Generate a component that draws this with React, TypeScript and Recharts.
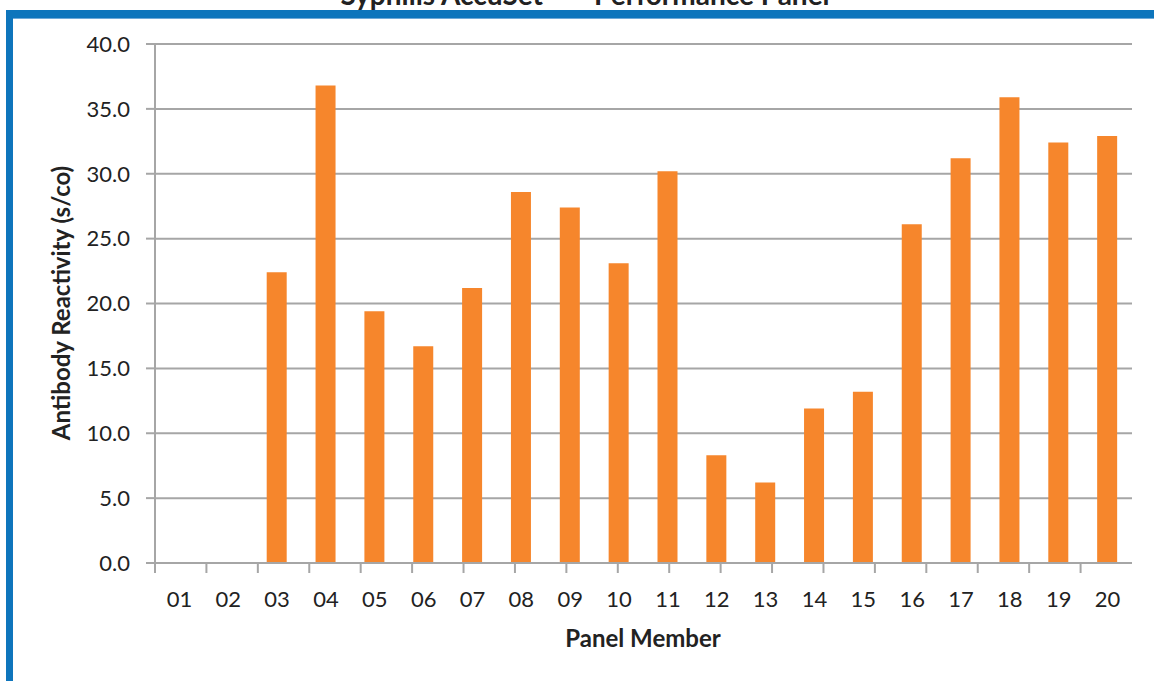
import { BarChart, Bar, XAxis, YAxis, CartesianGrid } from 'recharts'

const members = ['01', '02', '03', '04', '05', '06', '07', '08', '09', '10',
  '11', '12', '13', '14', '15', '16', '17', '18', '19', '20']
const reactivity = [0.05, 0.05, 22.4, 36.8, 19.4, 16.7, 21.2, 28.6, 27.4, 23.1,
  30.2, 8.3, 6.2, 11.9, 13.2, 26.1, 31.2, 35.9, 32.4, 32.9]
const yTicks = [0, 5, 10, 15, 20, 25, 30, 35, 40]
const boundaryTicks = Array.from({ length: members.length + 1 }, (_, i) => i)

const data = members.map((m, i) => ({ member: m, value: reactivity[i] }))

const FONT = 'Lato, "Open Sans", sans-serif'
const GRID = '#a6a6a6'
const ORANGE = '#f6862c'

export default function App() {
  return (
    <div style={{ position: 'absolute', left: 0, top: 0, width: 1154, height: 681, background: '#fff', overflow: 'hidden', fontFamily: FONT }}>
      {/* title, cut off by the frame */}
      <div style={{
        position: 'absolute', left: 0, width: 1170, top: -20, textAlign: 'center',
        fontSize: 28, fontWeight: 700, color: '#222', lineHeight: '28px',
      }}>
        Syphilis AccuSet™ – Performance Panel
      </div>
      {/* blue frame */}
      <div style={{ position: 'absolute', left: 6, top: 10, right: 0, height: 8, background: '#0e75bc', borderBottom: '1px solid #6fa9d8' }} />
      <div style={{ position: 'absolute', left: 6, top: 10, bottom: 0, width: 7, background: '#0e75bc' }} />

      <div style={{ position: 'absolute', left: 0, top: 0 }}>
        <BarChart
          width={1154} height={681} data={data}
          margin={{ top: 44, right: 22, bottom: 116, left: 0 }}
          barSize={20}
        >
          <CartesianGrid vertical={false} stroke={GRID} strokeWidth={2} />
          <XAxis
            dataKey="member" xAxisId="cat"
            tick={{ fill: '#222', fontSize: 22, fontFamily: FONT }}
            tickLine={false} axisLine={{ stroke: GRID, strokeWidth: 2 }}
            tickMargin={22} interval={0} height={1}
          />
          {/* category boundary ticks */}
          <XAxis
            xAxisId="edge" type="number" domain={[0, members.length]}
            ticks={boundaryTicks} tick={() => <g />} axisLine={false}
            tickLine={{ stroke: GRID, strokeWidth: 2 }} tickSize={9} height={1}
          />
          <YAxis
            domain={[0, 40]} ticks={yTicks} width={155}
            tickFormatter={(v: number) => v.toFixed(1)}
            tick={{ fill: '#222', fontSize: 22, fontFamily: FONT }}
            axisLine={{ stroke: GRID, strokeWidth: 2 }}
            tickLine={{ stroke: GRID, strokeWidth: 2 }} tickSize={9} tickMargin={16}
          />
          <Bar dataKey="value" xAxisId="cat" fill={ORANGE} isAnimationActive={false} />
        </BarChart>
      </div>

      <div style={{
        position: 'absolute', left: 60, top: 303, transform: 'translate(-50%, -50%) rotate(-90deg)',
        whiteSpace: 'nowrap', fontSize: 24, fontWeight: 700, color: '#222',
      }}>
        Antibody Reactivity (s/co)
      </div>
      <div style={{
        position: 'absolute', left: 643, top: 637, transform: 'translate(-50%, -50%)',
        whiteSpace: 'nowrap', fontSize: 24, fontWeight: 700, color: '#222',
      }}>
        Panel Member
      </div>
    </div>
  )
}
